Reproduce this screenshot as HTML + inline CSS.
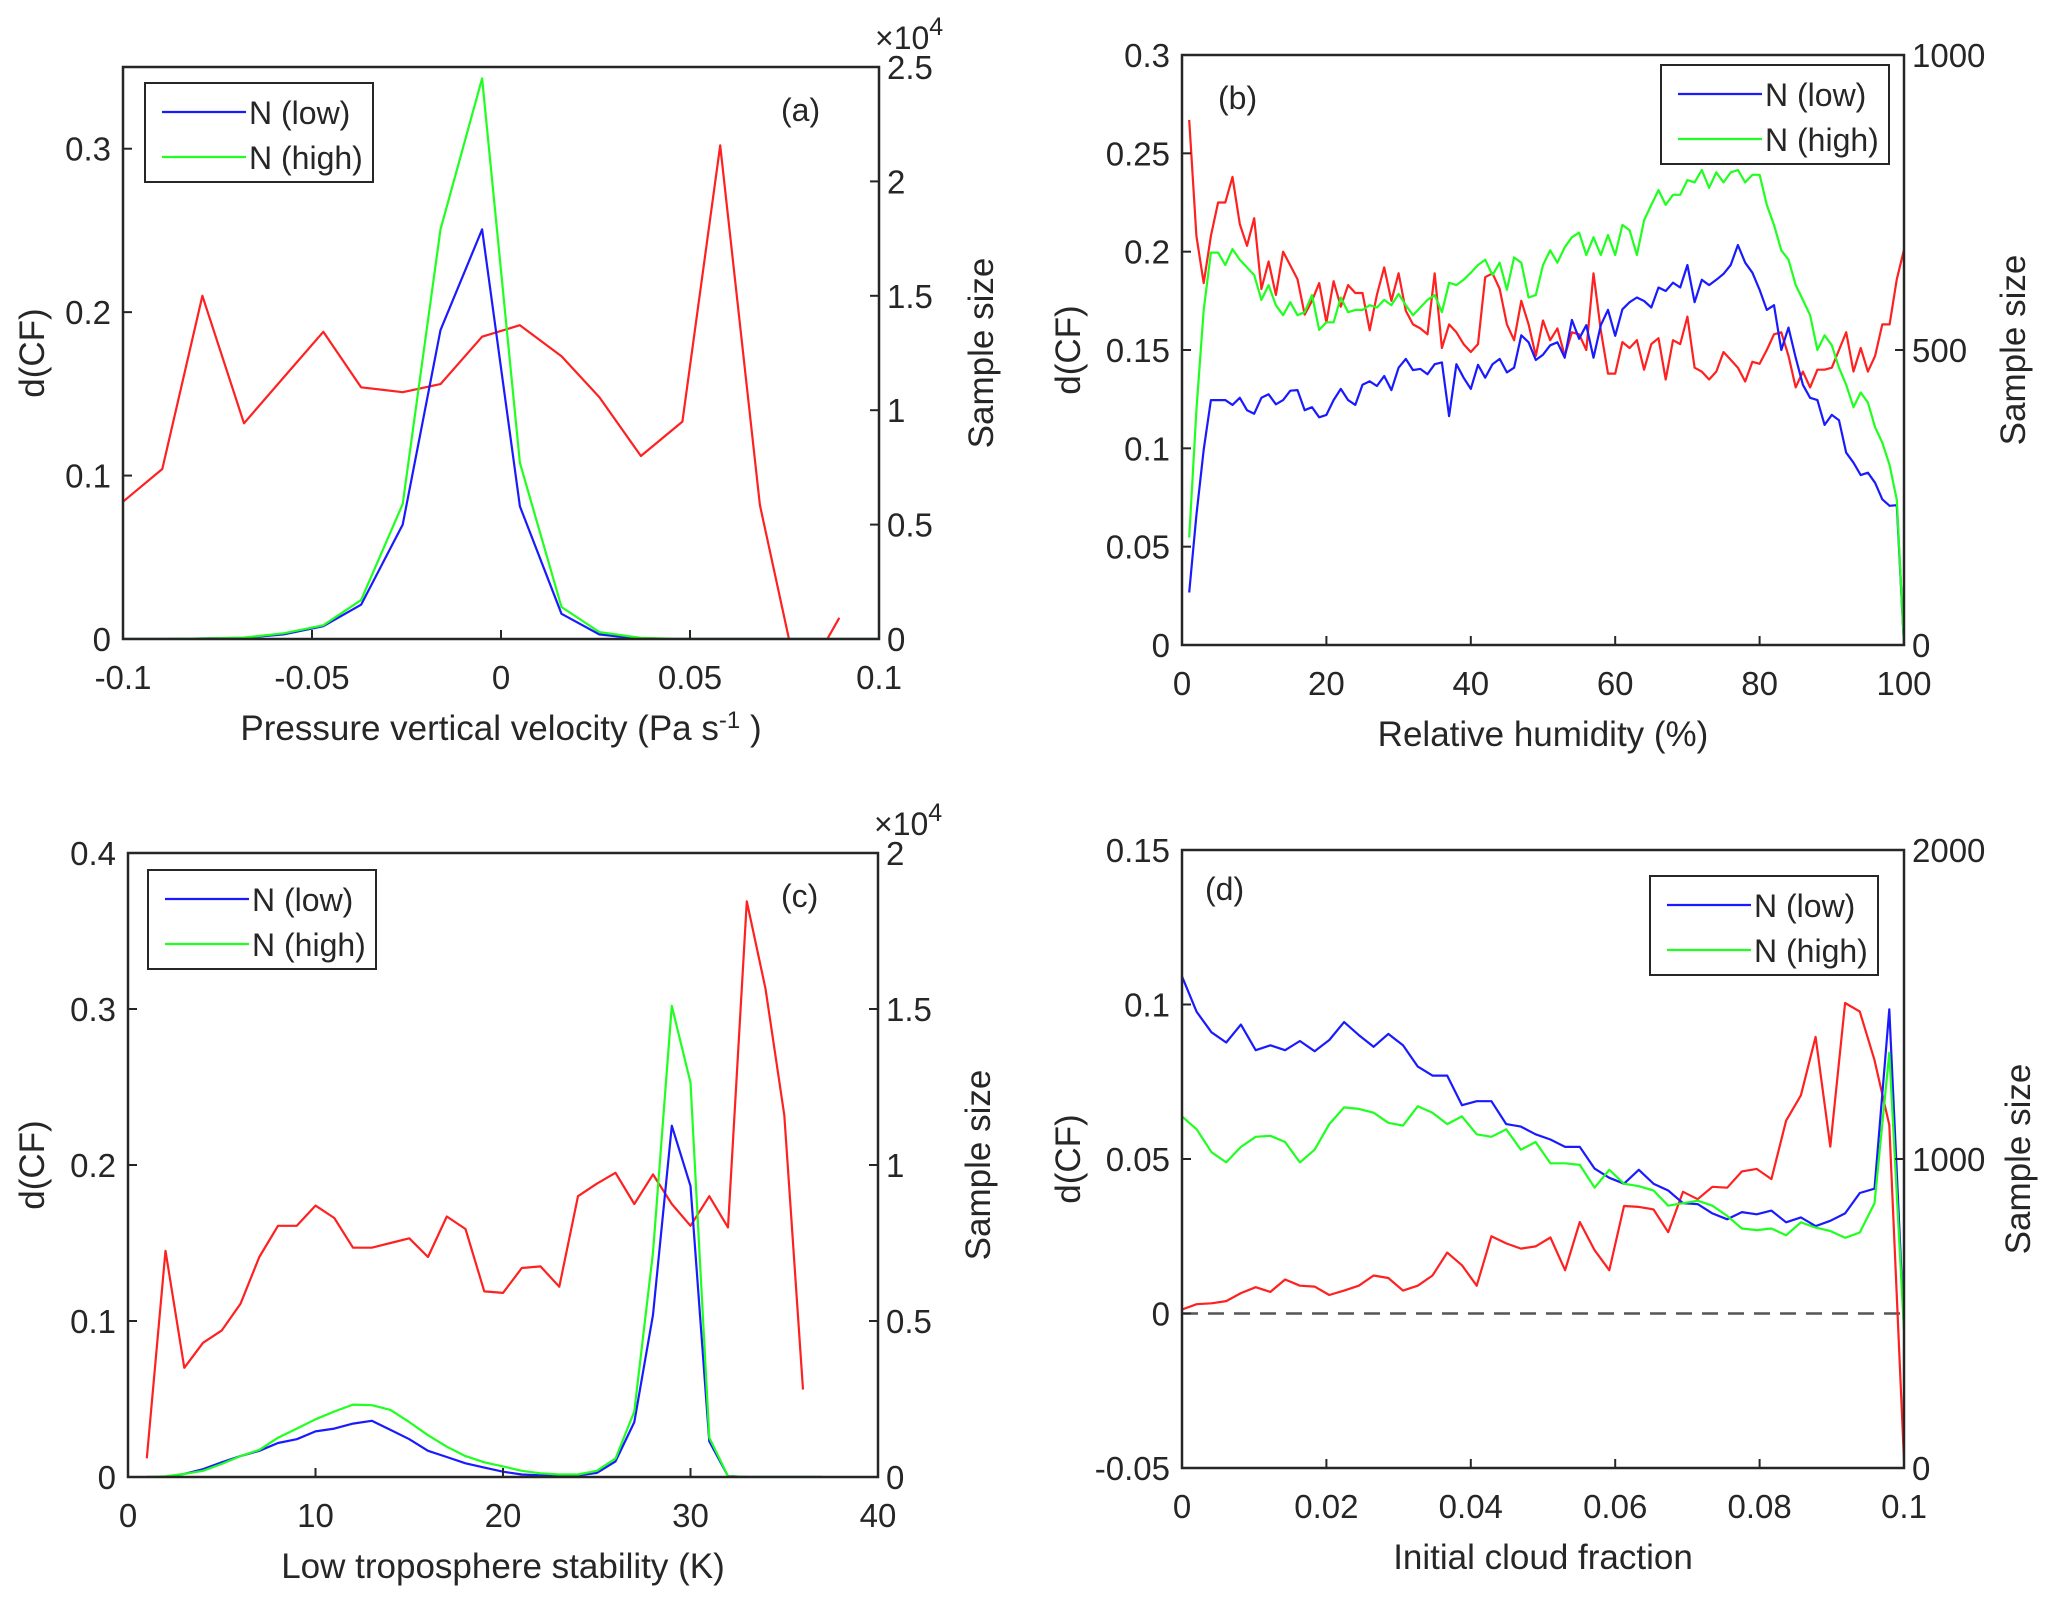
<!DOCTYPE html>
<html><head><meta charset="utf-8">
<style>
html,body{margin:0;padding:0;background:#fff;}
svg{display:block;}
text{font-family:"Liberation Sans",Arial,sans-serif;fill:#262626;}
</style></head>
<body>
<svg id="fig" width="2067" height="1599" viewBox="0 0 2067 1599" xmlns="http://www.w3.org/2000/svg"></svg>
<script>
// ---------- Panel (a) data ----------
const aX = [-0.1,-0.0896,-0.079,-0.068,-0.0575,-0.047,-0.037,-0.026,-0.016,-0.005,0.005,0.016,0.026,0.037,0.048,0.058,0.0685,0.079,0.0895];
const aRed = [0.084,0.104,0.21,0.132,0.16,0.188,0.154,0.151,0.156,0.185,0.192,0.173,0.148,0.112,0.133,0.302,0.082,-0.03,0.013];
const aXs = [-0.1,-0.0896,-0.079,-0.068,-0.0575,-0.047,-0.037,-0.026,-0.016,-0.005,0.005,0.016,0.026,0.037,0.048,0.058,0.0685,0.079,0.0895,0.1];
const aBlue = [0,0,0.002,0.005,0.02,0.056,0.15,0.50,1.35,1.79,0.58,0.11,0.02,0,0,0,0,0,0,0];
const aGreen = [0,0,0.002,0.006,0.025,0.06,0.17,0.59,1.79,2.45,0.77,0.14,0.03,0.005,0,0,0,0,0,0];

// ---------- Panel (b) data ----------
const bRed = [0.267,0.208,0.184,0.208,0.225,0.225,0.238,0.214,0.203,0.217,0.181,0.195,0.178,0.200,0.193,0.186,0.168,0.175,0.184,0.164,0.185,0.172,0.183,0.179,0.179,0.160,0.178,0.192,0.175,0.189,0.170,0.163,0.161,0.158,0.189,0.151,0.163,0.159,0.153,0.149,0.153,0.187,0.189,0.181,0.163,0.155,0.175,0.163,0.147,0.165,0.155,0.161,0.147,0.159,0.158,0.150,0.189,0.160,0.138,0.138,0.154,0.151,0.155,0.140,0.153,0.156,0.135,0.155,0.153,0.167,0.141,0.139,0.135,0.139,0.149,0.145,0.141,0.134,0.144,0.143,0.150,0.158,0.159,0.147,0.131,0.139,0.131,0.140,0.140,0.141,0.150,0.159,0.139,0.151,0.139,0.147,0.163,0.163,0.186,0.201];
const bGreen = [182,398,568,665,665,644,671,653,640,627,585,610,576,559,581,559,564,593,534,547,547,589,564,568,568,576,572,585,576,595,576,559,572,585,593,564,614,610,619,631,644,653,627,648,602,657,648,589,593,644,669,648,674,691,699,661,691,661,695,661,712,703,661,720,746,771,746,763,763,788,784,805,775,801,784,801,805,784,797,797,746,712,669,653,610,585,559,500,525,508,470,441,403,428,411,369,343,305,246,0];
const bBlue = [89,220,331,415,415,415,407,419,398,392,419,425,408,415,431,432,398,403,386,390,415,434,415,407,441,447,439,456,432,470,485,466,468,459,476,479,388,476,453,434,475,453,476,485,462,470,525,513,483,492,508,513,487,551,519,542,487,542,568,524,569,581,589,583,572,606,600,614,606,644,581,619,610,619,629,644,678,648,631,602,568,576,500,538,487,441,419,415,373,390,381,326,309,288,292,275,247,236,237,0];

// ---------- Panel (c) data ----------
const cRed = [0.012,0.145,0.070,0.086,0.094,0.111,0.141,0.161,0.161,0.174,0.166,0.147,0.147,0.150,0.153,0.141,0.167,0.159,0.119,0.118,0.134,0.135,0.122,0.180,0.188,0.195,0.175,0.194,0.175,0.161,0.180,0.160,0.369,0.313,0.232,0.056];
const cBlue = [0,0,0.01,0.025,0.047,0.067,0.084,0.109,0.121,0.146,0.155,0.171,0.18,0.151,0.121,0.084,0.064,0.044,0.03,0.017,0.008,0.005,0.003,0.005,0.013,0.05,0.176,0.52,1.126,0.933,0.114,0.003,0,0,0,0,0];
const cGreen = [0,0.002,0.01,0.02,0.042,0.067,0.087,0.126,0.155,0.185,0.21,0.232,0.23,0.215,0.176,0.134,0.097,0.067,0.047,0.034,0.02,0.012,0.008,0.008,0.02,0.059,0.21,0.72,1.51,1.264,0.126,0.003,0,0,0,0,0];

// ---------- Panel (d) data ----------
const dRed = [0.0013,0.003,0.0033,0.004,0.0066,0.0085,0.007,0.011,0.009,0.0087,0.006,0.0074,0.009,0.0123,0.0115,0.0074,0.009,0.0123,0.0197,0.0156,0.009,0.025,0.0227,0.021,0.0217,0.0246,0.014,0.0296,0.0205,0.014,0.0348,0.0345,0.0337,0.0263,0.0394,0.037,0.041,0.0407,0.046,0.0468,0.0435,0.0624,0.0706,0.0895,0.054,0.1005,0.0977,0.082,0.061,-0.0476];
const dBlue = [1591,1476,1410,1377,1435,1352,1368,1352,1382,1349,1385,1443,1401,1363,1405,1368,1299,1270,1270,1174,1187,1187,1113,1105,1080,1063,1039,1039,969,939,920,965,920,898,857,854,824,805,828,821,833,795,811,783,800,824,890,904,1484,450];
const dGreen = [1138,1096,1022,989,1039,1072,1075,1055,989,1030,1113,1167,1162,1150,1117,1108,1171,1150,1113,1138,1080,1072,1096,1030,1055,986,986,981,907,965,920,912,898,849,857,865,849,816,775,770,775,753,795,778,767,745,762,857,1344,445];

// tick labels
const aXTicks = ["-0.1","-0.05","0","0.05","0.1"], aYTicks = ["0","0.1","0.2","0.3"], aRTicks = ["0","0.5","1","1.5","2","2.5"];
const bXTicks = ["0","20","40","60","80","100"], bYTicks = ["0","0.05","0.1","0.15","0.2","0.25","0.3"], bRTicks = ["0","500","1000"];
const cXTicks = ["0","10","20","30","40"], cYTicks = ["0","0.1","0.2","0.3","0.4"], cRTicks = ["0","0.5","1","1.5","2"];
const dXTicks = ["0","0.02","0.04","0.06","0.08","0.1"], dYTicks = ["-0.05","0","0.05","0.1","0.15"], dRTicks = ["0","1000","2000"];

const NS = "http://www.w3.org/2000/svg";
const svg = document.getElementById('fig');
function el(tag, attrs, parent){ const e=document.createElementNS(NS,tag); for(const k in attrs) e.setAttribute(k,attrs[k]); (parent||svg).appendChild(e); return e; }

let clipId=0;
function panel(cfg){
  const g = el('g',{});
  
  
  const {L,R,T,B} = cfg;
  const sx = v => L + (v-cfg.x0)/(cfg.x1-cfg.x0)*(R-L);
  const sy = v => B - (v-cfg.y0)/(cfg.y1-cfg.y0)*(B-T);
  const sr = v => B - (v-cfg.r0)/(cfg.r1-cfg.r0)*(B-T);
  const cid = 'clip'+(clipId++);
  const cp = el('clipPath',{id:cid},g); el('rect',{x:L,y:T-2,width:R-L,height:B-T+2},cp);
  const plot = el('g',{'clip-path':'url(#'+cid+')'},g);
  if(cfg.zero){ const z=el('line',{x1:L,x2:R,y1:sy(0),y2:sy(0),stroke:'#555','stroke-width':2.5,'stroke-dasharray':'16,10'},plot);
      }
  function line(xs, ys, scale, color, nm){
    let d=''; for(let i=0;i<ys.length;i++){ d += (i?'L':'M')+sx(xs[i]).toFixed(1)+','+scale(ys[i]).toFixed(1); }
    const p = el('path',{d:d,fill:'none',stroke:color,'stroke-width':2.2,'stroke-linejoin':'round'},plot);
    
    
  }
  line(cfg.xr, cfg.red, sy, '#ff2020', 'red-series-dcf');
  line(cfg.xs, cfg.blue, sr, '#1a1aff', 'n-low-series');
  line(cfg.xs, cfg.green, sr, '#20ff20', 'n-high-series');
  el('rect',{x:L,y:T,width:R-L,height:B-T,fill:'none',stroke:'#262626','stroke-width':2.5},g);
  cfg.xt.forEach(t=>{ const v=parseFloat(t), x=sx(v);
    el('line',{x1:x,x2:x,y1:B,y2:B-9,stroke:'#262626','stroke-width':2},g);
    const tx=el('text',{x:x,y:B+50,'font-size':33,'text-anchor':'middle'},g); tx.textContent=t;
      });
  cfg.yt.forEach(t=>{ const v=parseFloat(t), y=sy(v);
    el('line',{x1:L,x2:L+9,y1:y,y2:y,stroke:'#262626','stroke-width':2},g);
    const tx=el('text',{x:L-12,y:y+12,'font-size':33,'text-anchor':'end'},g); tx.textContent=t;
      });
  cfg.rt.forEach(t=>{ const v=parseFloat(t), y=sr(v);
    el('line',{x1:R,x2:R-9,y1:y,y2:y,stroke:'#262626','stroke-width':2},g);
    const tx=el('text',{x:R+8,y:y+12,'font-size':33,'text-anchor':'start'},g); tx.textContent=t;
      });
  if(cfg.exp){ const tx=el('text',{x:R-4,y:T-18,'font-size':32},g); tx.innerHTML='×10<tspan dy="-14" font-size="25">4</tspan>';
      }
  const xt=el('text',{x:(L+R)/2,y:B+101,'font-size':35,'text-anchor':'middle'},g); xt.innerHTML=cfg.xtitle;
   
  const yt=el('text',{x:0,y:0,'font-size':35,'text-anchor':'middle',transform:'translate('+cfg.ylx+','+((T+B)/2)+') rotate(-90)'},g); yt.textContent='d(CF)';
   
  const rtl=el('text',{x:0,y:0,'font-size':35,'text-anchor':'middle',transform:'translate('+cfg.rlx+','+((T+B)/2)+') rotate(-90)'},g); rtl.textContent='Sample size';
   
  const pl=el('text',{x:cfg.lab[0],y:cfg.lab[1],'font-size':32},g); pl.textContent=cfg.label;
   
  const lg=el('g',{},g);
   
  const [lx,ly]=cfg.leg;
  el('rect',{x:lx,y:ly,width:228,height:99,fill:'#fff',stroke:'#262626','stroke-width':2},lg);
  el('line',{x1:lx+17,x2:lx+101,y1:ly+29,y2:ly+29,stroke:'#1a1aff','stroke-width':2.2},lg);
  el('line',{x1:lx+17,x2:lx+101,y1:ly+74,y2:ly+74,stroke:'#20ff20','stroke-width':2.2},lg);
  const t1=el('text',{x:lx+104,y:ly+41,'font-size':32},lg); t1.textContent='N (low)';
   
  const t2=el('text',{x:lx+104,y:ly+86,'font-size':32},lg); t2.textContent='N (high)';
   
}

const seq=(a,n,s)=>Array.from({length:n},(_,i)=>a+i*s);
panel({name:'panel-a',L:123,R:879,T:67,B:639,x0:-0.1,x1:0.1,y0:0,y1:0.35,r0:0,r1:2.5,
  xr:aX,red:aRed,xs:aXs,blue:aBlue,green:aGreen,xt:aXTicks,yt:aYTicks,rt:aRTicks,exp:true,
  xtitle:'Pressure vertical velocity (Pa s<tspan dy="-12" font-size="24">-1</tspan><tspan dy="12"> )</tspan>',
  ylx:44,rlx:993,label:'(a)',lab:[781,121],leg:[145,83]});
panel({name:'panel-b',L:1182,R:1904,T:55,B:645,x0:0,x1:100,y0:0,y1:0.3,r0:0,r1:1000,
  xr:seq(1,100,1),red:bRed,xs:seq(1,100,1),blue:bBlue,green:bGreen,xt:bXTicks,yt:bYTicks,rt:bRTicks,exp:false,
  xtitle:'Relative humidity (%)',ylx:1080,rlx:2025,label:'(b)',lab:[1218,109],leg:[1661,65]});
panel({name:'panel-c',L:128,R:878,T:853,B:1477,x0:0,x1:40,y0:0,y1:0.4,r0:0,r1:2,
  xr:seq(1,36,1),red:cRed,xs:seq(1,37,1),blue:cBlue,green:cGreen,xt:cXTicks,yt:cYTicks,rt:cRTicks,exp:true,
  xtitle:'Low troposphere stability (K)',ylx:44,rlx:990,label:'(c)',lab:[781,907],leg:[148,870]});
panel({name:'panel-d',L:1182,R:1904,T:850,B:1468,x0:0,x1:0.1,y0:-0.05,y1:0.15,r0:0,r1:2000,
  xr:seq(0,50,0.1/49),red:dRed,xs:seq(0,50,0.1/49),blue:dBlue,green:dGreen,xt:dXTicks,yt:dYTicks,rt:dRTicks,exp:false,zero:true,
  xtitle:'Initial cloud fraction',ylx:1080,rlx:2030,label:'(d)',lab:[1205,900],leg:[1650,876]});
</script>
</body></html>
